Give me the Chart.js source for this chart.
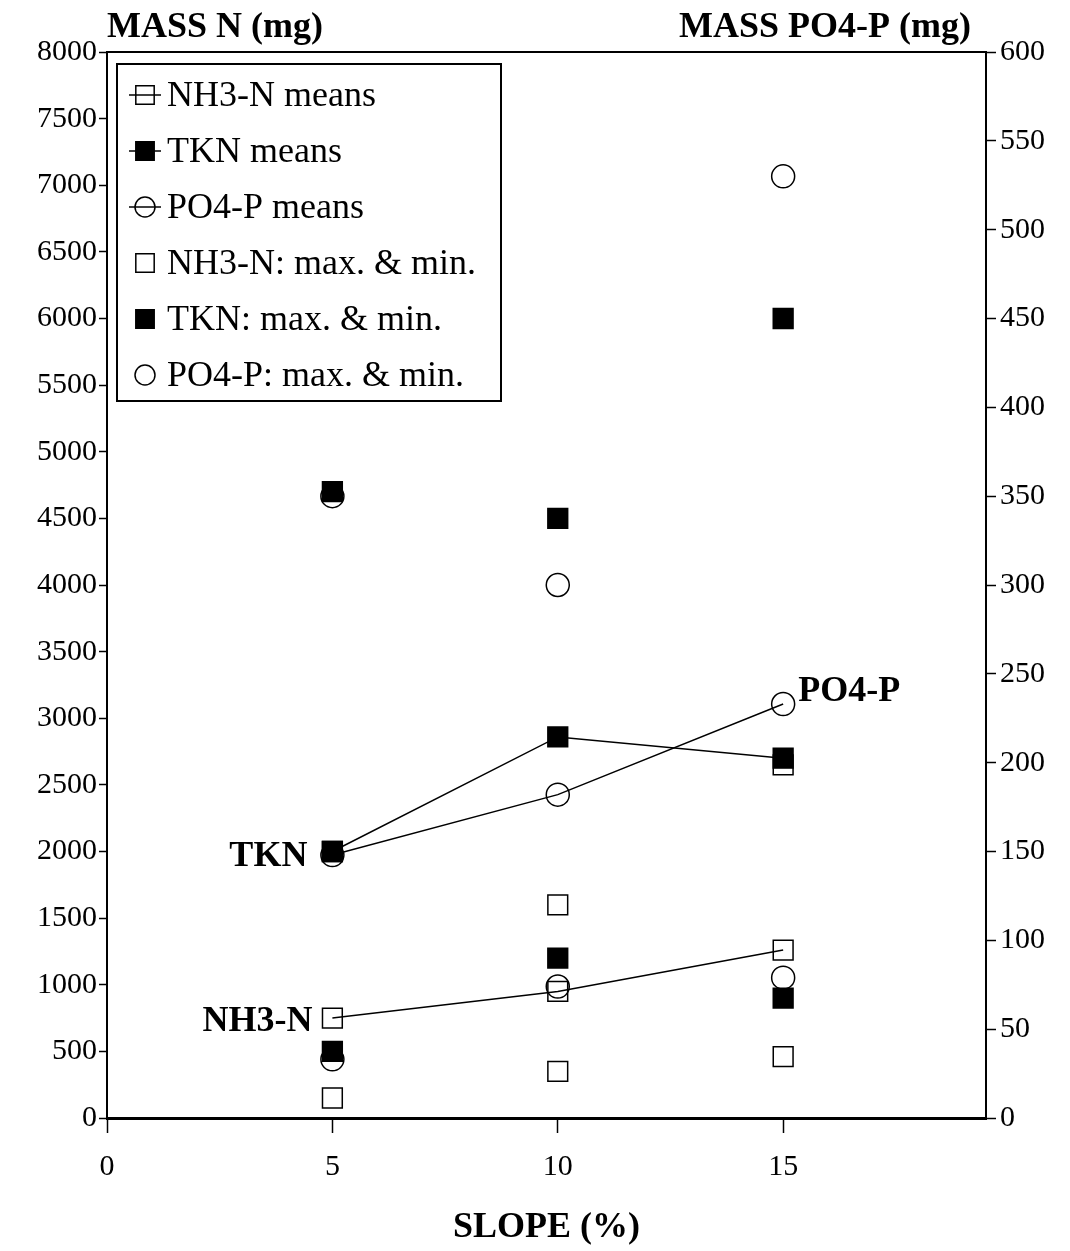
<!DOCTYPE html>
<html>
<head>
<meta charset="utf-8">
<script src="https://cdn.jsdelivr.net/npm/chart.js@4.4.1/dist/chart.umd.min.js"></script>
<style>
  html, body { margin: 0; padding: 0; background: #fff; }
</style>
</head>
<body>
<canvas id="c" width="1070" height="1251"></canvas>
<script>
// Runoff mass vs. slope: means (joined) plus max/min per slope
const slopes = [5, 10, 15];
const slopeTicks = [0, 5, 10, 15];

const nh3Mean = [750, 950, 1260];
const nh3Max = [2000, 1600, 2650];
const nh3Min = [150, 350, 460];

const tknMean = [2000, 2860, 2700];
const tknMax = [4700, 4500, 6000];
const tknMin = [500, 1200, 900];

// PO4-P goes on the right-hand axis
const po4Mean = [148, 182, 233];
const po4Max = [350, 300, 530];
const po4Min = [33, 74, 79];

const serif = '"Liberation Serif", "Times New Roman", Times, serif';
const pts = arr => slopes.map((x, i) => ({ x, y: arr[i] }));
const clear = 'rgba(0,0,0,0)';

const openSq = { pointStyle: 'rect', pointRadius: 14, borderColor: '#000', backgroundColor: clear };
const fillSq = { pointStyle: 'rect', pointRadius: 14, borderColor: '#000', backgroundColor: '#000' };
const openCi = { pointStyle: 'circle', pointRadius: 11.5, borderColor: '#000', backgroundColor: clear };

const datasets = [
  Object.assign({ label: 'NH3-N means', data: pts(nh3Mean), showLine: true, yAxisID: 'yN', order: 3 }, openSq),
  Object.assign({ label: 'TKN means', data: pts(tknMean), showLine: true, yAxisID: 'yN', order: 1 }, fillSq),
  Object.assign({ label: 'PO4-P means', data: pts(po4Mean), showLine: true, yAxisID: 'yP', order: 2 }, openCi),
  Object.assign({ label: 'NH3-N: max. & min.', data: pts(nh3Max).concat(pts(nh3Min)), yAxisID: 'yN', order: 3 }, openSq),
  Object.assign({ label: 'TKN: max. & min.', data: pts(tknMax).concat(pts(tknMin)), yAxisID: 'yN', order: 1 }, fillSq),
  Object.assign({ label: 'PO4-P: max. & min.', data: pts(po4Max).concat(pts(po4Min)), yAxisID: 'yP', order: 2 }, openCi),
];
datasets.forEach(d => { d.borderWidth = 1.5; d.pointBorderWidth = 1.5; });

function marker(ctx, ds, x, y, r) {
  ctx.beginPath();
  if (ds.pointStyle === 'rect') {
    const s = r * Math.SQRT1_2;
    ctx.rect(x - s, y - s, 2 * s, 2 * s);
  } else {
    ctx.arc(x, y, r, 0, Math.PI * 2);
  }
  ctx.fillStyle = ds.backgroundColor;
  ctx.fill();
  ctx.lineWidth = 1.5;
  ctx.strokeStyle = '#000';
  ctx.stroke();
}

// frame top, axis headings, series labels and the boxed key
const decorations = {
  id: 'decorations',
  afterDraw(chart) {
    const { ctx, chartArea: a, scales } = chart;
    ctx.save();
    ctx.strokeStyle = '#000';
    ctx.lineWidth = 2;
    ctx.beginPath();
    ctx.moveTo(a.left, a.top);
    ctx.lineTo(a.right, a.top);
    ctx.stroke();

    ctx.fillStyle = '#000';
    ctx.font = 'bold 36px ' + serif;
    ctx.textBaseline = 'middle';
    ctx.textAlign = 'center';
    ctx.fillText('MASS N (mg)', 215, 28);
    ctx.fillText('MASS PO4-P (mg)', 825, 28);

    const x = scales.x, yN = scales.yN, yP = scales.yP;
    ctx.textAlign = 'right';
    ctx.fillText('TKN', x.getPixelForValue(slopes[0]) - 25, yN.getPixelForValue(tknMean[0]) + 5);
    ctx.fillText('NH3-N', x.getPixelForValue(slopes[0]) - 20, yN.getPixelForValue(nh3Mean[0]) + 4);
    ctx.textAlign = 'left';
    ctx.fillText('PO4-P', x.getPixelForValue(slopes[2]) + 15, yP.getPixelForValue(po4Mean[2]) - 12);

    // key
    const bx = a.left + 10, by = a.top + 12, bw = 384, bh = 337;
    ctx.lineWidth = 2;
    ctx.strokeRect(bx, by, bw, bh);
    ctx.font = '36px ' + serif;
    ctx.textAlign = 'left';
    chart.data.datasets.forEach((ds, i) => {
      const cy = by + 31 + i * 56;
      const mx = bx + 28;
      if (ds.showLine) {
        ctx.lineWidth = 1.5;
        ctx.beginPath();
        ctx.moveTo(mx - 16, cy);
        ctx.lineTo(mx + 16, cy);
        ctx.stroke();
      }
      marker(ctx, ds, mx, cy, ds.pointStyle === 'rect' ? 13 : 10);
      ctx.fillStyle = '#000';
      ctx.fillText(ds.label, bx + 50, cy + 2);
    });
    ctx.restore();
  }
};

const tickFont = { family: serif, size: 30 };
const plain = v => String(v);

new Chart(document.getElementById('c'), {
  type: 'scatter',
  data: { datasets },
  options: {
    responsive: false,
    animation: false,
    layout: { padding: { top: 52, left: 0, right: 0, bottom: 0 } },
    plugins: { legend: { display: false }, tooltip: { enabled: false } },
    scales: {
      x: {
        type: 'linear', min: 0, max: 19.5,
        afterBuildTicks: s => { s.ticks = slopeTicks.map(v => ({ value: v })); },
        afterFit: s => { s.height = 133; },
        border: { color: '#000', width: 3 },
        grid: { drawOnChartArea: false, tickLength: 15, tickColor: '#000', tickWidth: 1.5 },
        ticks: { color: '#000', font: tickFont, padding: 16, maxRotation: 0, callback: plain },
        title: { display: true, text: 'SLOPE (%)', color: '#000', font: { family: serif, size: 36, weight: 'bold' }, padding: { top: 0, bottom: 2 } }
      },
      yN: {
        type: 'linear', position: 'left', min: 0, max: 8000,
        afterFit: s => { s.width = 107; },
        border: { color: '#000', width: 2 },
        grid: { drawOnChartArea: false, tickLength: 8, tickColor: '#000', tickWidth: 1.5 },
        ticks: { stepSize: 500, color: '#000', font: tickFont, padding: 2, callback: plain }
      },
      yP: {
        type: 'linear', position: 'right', min: 0, max: 600,
        afterFit: s => { s.width = 84; },
        border: { color: '#000', width: 2 },
        grid: { drawOnChartArea: false, tickLength: 10, tickColor: '#000', tickWidth: 1.5 },
        ticks: { stepSize: 50, color: '#000', font: tickFont, padding: 4, callback: plain }
      }
    }
  },
  plugins: [decorations]
});
</script>
</body>
</html>
